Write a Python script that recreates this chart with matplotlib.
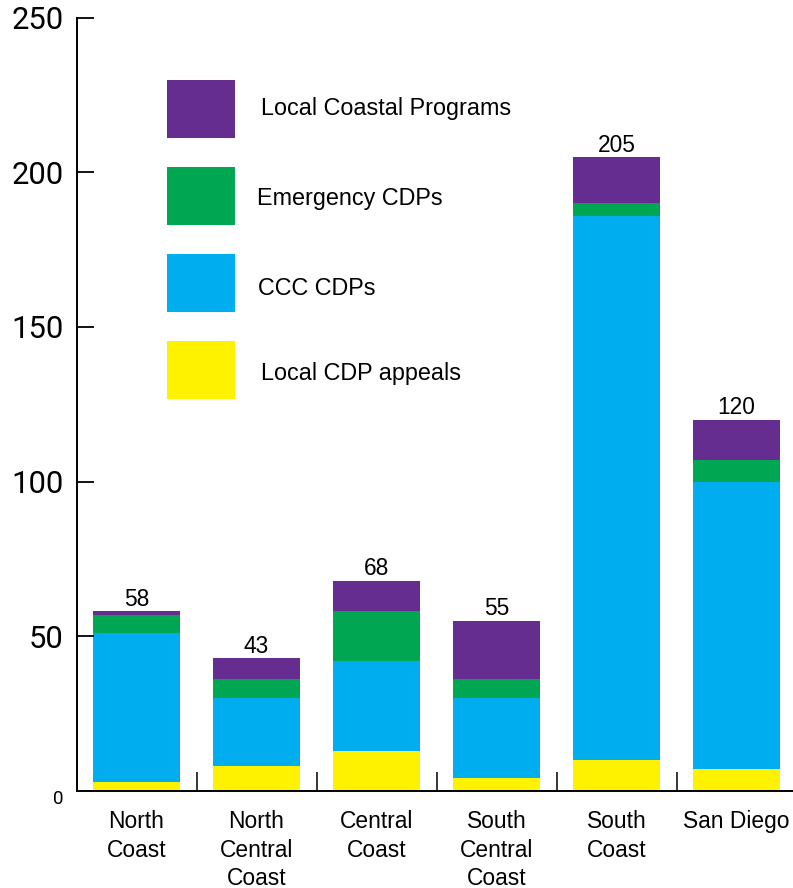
import matplotlib
matplotlib.use("Agg")
import matplotlib.pyplot as plt
from matplotlib.patches import Rectangle
from matplotlib.ticker import FixedLocator

regions = ["North\nCoast", "North\nCentral\nCoast", "Central\nCoast",
           "South\nCentral\nCoast", "South\nCoast", "San Diego"]

# stacked from the bottom up
local_appeals = [3, 8, 13, 4, 10, 7]
ccc_cdps = [48, 22, 29, 26, 176, 93]
emergency_cdps = [6, 6, 16, 6, 4, 7]
lcps = [1, 7, 10, 19, 15, 13]

series = [
    ("Local CDP appeals", local_appeals, "#FFF200"),
    ("CCC CDPs", ccc_cdps, "#00AEEF"),
    ("Emergency CDPs", emergency_cdps, "#00A651"),
    ("Local Coastal Programs", lcps, "#662D91"),
]

text_font = "Liberation Sans"
num_font = "Roboto"

fig = plt.figure(figsize=(7.93, 8.88), dpi=100)
ax = fig.add_axes([76.5 / 793, 1 - 790.8 / 888, 1 - 76.5 / 793, (790.8 - 17.7) / 888])

x = list(range(len(regions)))
bottom = [0] * len(regions)
for name, vals, color in series:
    ax.bar(x, vals, width=0.725, bottom=bottom, color=color, linewidth=0)
    bottom = [b + v for b, v in zip(bottom, vals)]

# totals above each stack
for xi, total in zip(x, bottom):
    ax.annotate(str(total), (xi, total), xytext=(0, 3.8), textcoords="offset points",
                ha="center", va="baseline", fontsize=16.4, family=text_font)

ax.set_xlim(-0.5, 5.47)
ax.set_ylim(0, 250)

for side in ("top", "right"):
    ax.spines[side].set_visible(False)
for side in ("left", "bottom"):
    ax.spines[side].set_linewidth(1.4)

ax.set_yticks([50, 100, 150, 200, 250])
ax.tick_params(axis="y", direction="in", length=12.2, width=1.3, pad=9.5,
               labelsize=22.3)
for lab in ax.get_yticklabels():
    lab.set_family(num_font)
# smaller zero label sits below the corner
ax.annotate("0", xy=(0, 0), xycoords=("axes fraction", "data"),
            xytext=(-13.3, -9.4), textcoords="offset points",
            ha="center", va="baseline", fontsize=13.5, family=num_font)

ax.set_xticks(x)
ax.set_xticklabels(regions, family=text_font, fontsize=16.4, linespacing=1.3)
ax.tick_params(axis="x", which="major", length=0, pad=14)
ax.xaxis.set_minor_locator(FixedLocator([i + 0.5 for i in range(len(regions) - 1)]))
ax.tick_params(axis="x", which="minor", direction="in", length=13.7, width=1.1)

# legend drawn as a column of swatches
swatch_bottoms = [399, 312, 225, 138]
label_baselines = [380, 295, 205, 115]
label_lefts = [260.7, 257.7, 256.7, 260.7]
for (name, vals, color), yb, yt, xl in zip(series, swatch_bottoms, label_baselines, label_lefts):
    fig.patches.append(Rectangle((167 / 793, 1 - yb / 888), 68 / 793, 58 / 888,
                                 transform=fig.transFigure, facecolor=color,
                                 linewidth=0))
    fig.text(xl / 793, 1 - yt / 888, name, ha="left", va="baseline",
             fontsize=16.8, family=text_font)

fig.savefig("out.png", dpi=100)
